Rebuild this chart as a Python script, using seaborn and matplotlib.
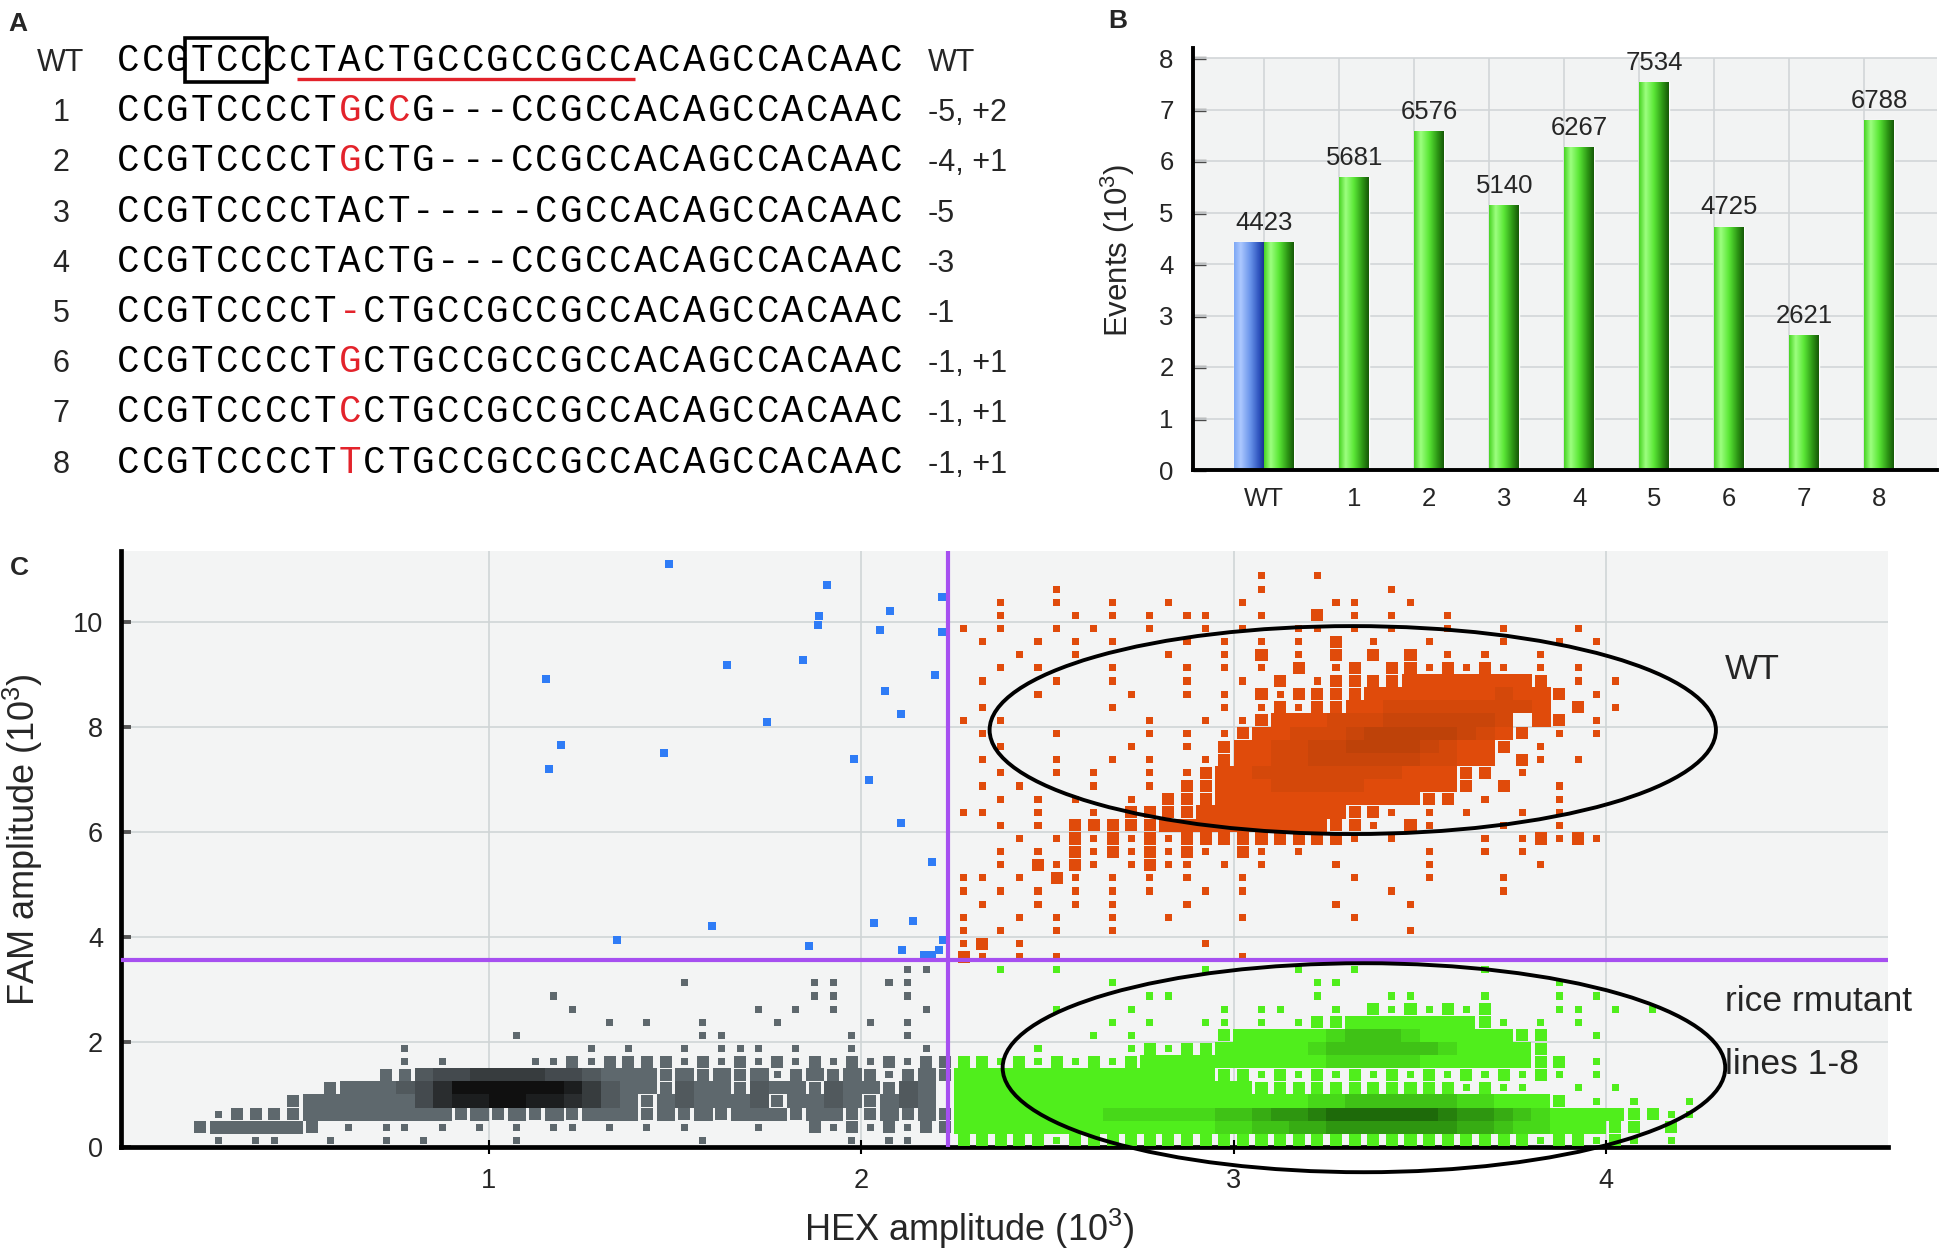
import numpy as np
import pandas as pd
import matplotlib
matplotlib.use("Agg")
import matplotlib.pyplot as plt
import seaborn as sns
from matplotlib.colors import LinearSegmentedColormap, to_rgb
from matplotlib.patches import Ellipse, Rectangle

sns.set_style("white")
plt.rcParams["font.family"] = ["Liberation Sans", "DejaVu Sans"]
plt.rcParams["mathtext.fontset"] = "custom"
plt.rcParams["mathtext.rm"] = "Liberation Sans"
plt.rcParams["mathtext.it"] = "Liberation Sans:italic"

# ---------------- panel A : alignment of the target site ----------------
row_names = ["WT", "1", "2", "3", "4", "5", "6", "7", "8"]
sequences = [
    "CCGTCCCCTACTGCCGCCGCCACAGCCACAAC",
    "CCGTCCCCTGCCG---CCGCCACAGCCACAAC",
    "CCGTCCCCTGCTG---CCGCCACAGCCACAAC",
    "CCGTCCCCTACT-----CGCCACAGCCACAAC",
    "CCGTCCCCTACTG---CCGCCACAGCCACAAC",
    "CCGTCCCCT-CTGCCGCCGCCACAGCCACAAC",
    "CCGTCCCCTGCTGCCGCCGCCACAGCCACAAC",
    "CCGTCCCCTCCTGCCGCCGCCACAGCCACAAC",
    "CCGTCCCCTTCTGCCGCCGCCACAGCCACAAC",
]
changed_bases = [[], [9, 11], [9], [], [], [9], [9], [9], [9]]
indels = ["WT", "-5, +2", "-4, +1", "-5", "-3", "-1", "-1, +1", "-1, +1", "-1, +1"]

# ---------------- panel B : droplet counts ----------------
lines = ["WT", "1", "2", "3", "4", "5", "6", "7", "8"]
events = [4423, 5681, 6576, 5140, 6267, 7534, 4725, 2621, 6788]
wt_ref_events = 4423

# ---------------- panel C : 2D droplet plot ----------------
# isolated FAM+ droplets (blue)
blue_hex = [1.484, 1.908, 2.218, 1.888, 2.078, 1.883, 2.05, 2.218, 1.154, 1.64, 1.845,
            2.198, 2.063, 2.106, 1.747, 1.195, 1.471, 1.163, 1.98, 2.02, 2.106, 2.19,
            1.345, 1.60, 1.86, 2.035, 2.14, 2.11, 2.17, 2.19, 2.21, 2.22]
blue_fam = [11.11, 10.70, 10.48, 10.11, 10.21, 9.95, 9.84, 9.81, 8.92, 9.17, 9.28,
            8.99, 8.68, 8.24, 8.09, 7.65, 7.50, 7.20, 7.38, 6.98, 6.17, 5.42,
            3.94, 4.20, 3.83, 4.27, 4.31, 3.75, 3.66, 3.66, 3.75, 3.95]

# droplet density, cells of 0.05 HEX x 0.25 FAM, top row first
# '.' none, 1-2 scattered droplets, 3-9 filled cell, darker = denser
grey_rows = [
    "......................................11.",
    "..........................1......11..11..",
    "...................1.............11...1..",
    "....................1.........1.1.1....1.",
    "......................1.1..1...1....1.1..",
    ".................1.........11......1..1..",
    "...........1.........1.1..1.111.1..1...1.",
    "...........1.1....11212222121212121212122",
    "..........22455666655433323232312323212321",
    ".......233345799999986433243324332433243",
    ".....23333335788998876432343334233432343",
    ".12222333333332323232333232323332332232323",
    "2333332.1.11.1.1.1.11.1.1.1...1..21212122",
    ".1.11..1..1.1....1.........1.......1.11..",
]
green_rows = [
    "..1..1.......1....1..1......1",
    "........1..........11...........1",
    "..........11.......1...11...1...1.1",
    ".....1...1....1.11..1.2121212...11.1.1",
    "........1.1..11.1.122333333321.1.1......",
    ".......1.1....233333455543333322..1.....",
    "....1....12122333334555555433332........",
    "221212121233333333334444433333322.1......",
    "333333333333332212121212121212121.1.......",
    "3333333333333333222222222221211..1.1....",
    "333333333333333333344555555443332.1.1..1.",
    "3333333344444455677899999987765433332211",
    "3333333333333344556677777776654433322.2.1",
    "2222212222222222222222222222222122121.1.",
]
orange_rows = [
    "................1..1",
    ".....1..........1......1",
    "..1..1..1..1...1....11..1",
    "..1...1.1.1.11..1..2.1.1..1",
    "1.1..1.1..1..1.1..11.1.1..1..1...1",
    ".1..1.1.1...1.1.1.1.2.1..1...1..1.1",
    "...1..1....1..1.2.1.2.2.2.1.1..1",
    "..1.1...1...1.1.1.2.12.2212121.1.1...",
    ".1...1..1...1..1.2.1222233333332.1.1.",
    "....1....1..1.1.21222233333334332.1..",
    ".1......1.....1.1212233444444443.2.1.1.",
    "1.1.......1..1.123334445555554.32.1...",
    ".1...1....1.1.12334445666665432.1.1...",
    "..1......1..1.2334455666654332.1.....",
    ".1...1..1.1..1233445555554433.21.1....",
    "..1..1.1..1.12334444444433322.1.....",
    ".1.1...1..1.2233344444333332.2..1...",
    "..1.1.1..1.2223333333333322.1...1....",
    "11..1..1.222233333333221.1.1..1.1....",
    "..1.1.22222333333333221.21...1..1......",
    "...1.12121212222222221.1....1.12121...",
    "..1.1.21212121.21.1......1..1.1",
    "..1.2121.1211.1.1...1....1.....1",
    "11.1.21.1.1.1..1.....1...1...1",
    "1.1.1.1.1.1..1.1.......1.....1",
    ".1..1.1.1...1.......1...1",
    "1..1.1..1..1...1.....1",
    "1.1..1..1...............1",
    "12.1.........1",
    "21.1.1.........1",
]

hex_threshold = 2.234
fam_threshold = 3.56

W, H = 1950, 1249
fig = plt.figure(figsize=(W / 100, H / 100), dpi=100)
red = "#e3232b"

# ---------------- A ----------------
axA = fig.add_axes([0, 0, 1, 1])
axA.set_xlim(0, W)
axA.set_ylim(H, 0)
axA.axis("off")

pitch = 24.6
seq_x0 = 116
for r, (name, seq, sites, ind) in enumerate(zip(row_names, sequences, changed_bases, indels)):
    yb = 71 + r * 50.2
    axA.text(61, yb, name, ha="center", va="baseline", fontsize=22)
    for k, ch in enumerate(seq):
        axA.text(seq_x0 + (k + 0.5) * pitch, yb, ch, ha="center", va="baseline",
                 fontsize=27, family="Liberation Mono",
                 color=red if k in sites else "black")
    axA.text(928, yb, ind, ha="left", va="baseline", fontsize=22)

# PAM box and target underline
axA.add_patch(Rectangle((185, 38), 82, 44, fill=False, lw=2.6, ec="black"))
axA.plot([seq_x0 + 7.35 * pitch, seq_x0 + 21.1 * pitch], [79, 79], color=red, lw=2.4,
         solid_capstyle="butt")

axA.text(8, 24, "A", fontsize=19, fontweight="bold", va="center")
axA.text(1108, 21, "B", fontsize=19, fontweight="bold", va="center")
axA.text(10, 568, "C", fontsize=19, fontweight="bold", va="center")

# ---------------- B ----------------
axB = fig.add_axes([1193 / W, 1 - 470 / H, 744 / W, 8.2 * 51.5 / H])
bw = 0.4
xpos = np.arange(len(lines))
vals = np.array(events) / 1000
xl = (-1.15, 8.77)

axB.add_patch(Rectangle((xl[0], 0), xl[1] - xl[0], 8, facecolor="#f2f3f3", edgecolor="none", zorder=0))
axB.hlines(np.arange(1, 9), xl[0], xl[1], color="#d2d6d8", lw=1.2, zorder=1)
axB.vlines(xpos - bw / 2, 0, 8, color="#d2d6d8", lw=1.2, zorder=1)

green_cmap = LinearSegmentedColormap.from_list(
    "g", [(0, "#48d424"), (0.22, "#9dff80"), (0.5, "#5ae736"), (0.8, "#2c9414"), (1, "#175a08")])
blue_cmap = LinearSegmentedColormap.from_list(
    "b", [(0, "#7ea8f5"), (0.22, "#acc8ff"), (0.55, "#6893ea"), (0.85, "#2d52bd"), (1, "#1b3490")])

gbars = axB.bar(xpos, vals, width=bw, color="#5ae736", zorder=2)
bbars = axB.bar([xpos[0] - bw], [wt_ref_events / 1000], width=bw, color="#6893ea", zorder=2)


def shade(ax, patch, cmap):
    x, y = patch.get_x(), patch.get_y()
    w, h = patch.get_width(), patch.get_height()
    im = ax.imshow(np.linspace(0, 1, 64).reshape(1, -1), cmap=cmap, aspect="auto",
                   extent=[x, x + w, y, y + h], interpolation="bilinear", zorder=2.5)
    im.set_clip_path(patch)


for p in gbars:
    shade(axB, p, green_cmap)
for p in bbars:
    shade(axB, p, blue_cmap)

for i, v in enumerate(events):
    x = xpos[i] if i > 0 else xpos[0] - bw / 2
    axB.text(x, vals[i] + 0.24, str(v), ha="center", va="baseline", fontsize=18.5)

axB.set_xlim(*xl)
axB.set_ylim(0, 8.2)
axB.set_xticks(np.r_[xpos[0] - bw / 2, xpos[1:]])
axB.set_xticklabels(lines)
axB.set_yticks(range(9))
axB.tick_params(axis="y", left=True, direction="in", length=9, width=2.4, color="#4a4a4a",
                labelsize=18.5, pad=14)
axB.tick_params(axis="x", bottom=False, labelsize=18.5, pad=9)
for s in ["top", "right"]:
    axB.spines[s].set_visible(False)
for s in ["left", "bottom"]:
    axB.spines[s].set_linewidth(2.8)
    axB.spines[s].set_color("black")
axB.set_ylabel(r"Events (10$^{\mathrm{3}}$)", fontsize=22.5)
axB.yaxis.set_label_coords(-0.075, 0.52)

# ---------------- C ----------------
axC = fig.add_axes([121 / W, 1 - 1147 / H, (1888 - 121) / W, 596 / H])
axC.set_facecolor("#f3f4f4")
DX, DY = 0.05, 0.25


def draw_cluster(ax, rows, x0, y0, ncols, base, dark):
    lv = np.array([[int(c) if c.isdigit() else 0 for c in r.ljust(ncols, ".")[:ncols]]
                   for r in rows])
    nr = lv.shape[0]
    b, d = np.array(to_rgb(base)), np.array(to_rgb(dark))
    t = np.clip((lv - 3) / 6.0, 0, 1)[..., None]
    img = np.zeros((nr, ncols, 4))
    img[..., :3] = b * (1 - t) + d * t
    img[..., 3] = (lv >= 3).astype(float)
    ax.imshow(img, extent=(x0, x0 + ncols * DX, y0, y0 + nr * DY), origin="upper",
              interpolation="nearest", aspect="auto", zorder=2)
    rr, cc = np.nonzero((lv > 0) & (lv < 3))
    df = pd.DataFrame({"hex": x0 + (cc + 0.5) * DX, "fam": y0 + (nr - rr - 0.5) * DY,
                       "lvl": lv[rr, cc]})
    sns.scatterplot(data=df, x="hex", y="fam", size="lvl", sizes={1: 26, 2: 75}, marker="s",
                    color=base, linewidth=0, legend=False, ax=ax, zorder=3)


draw_cluster(axC, grey_rows, 0.20, 0.0, 41, "#5e686d", "#101010")
draw_cluster(axC, green_rows, 2.25, 0.0, 40, "#50ee1c", "#1e6a0a")
draw_cluster(axC, orange_rows, 2.25, 3.5, 37, "#e04b0b", "#9c3a08")
sns.scatterplot(x=blue_hex, y=blue_fam, marker="s", s=26, color="#2f7cf6", linewidth=0,
                ax=axC, zorder=3)

axC.axvline(hex_threshold, color="#a64ff0", lw=3, zorder=4)
axC.axhline(fam_threshold, color="#a64ff0", lw=3, zorder=4)

axC.add_patch(Ellipse((3.32, 7.94), 1.95, 3.96, fill=False, lw=2.8, ec="black", zorder=5))
axC.add_patch(Ellipse((3.35, 1.51), 1.94, 3.98, fill=False, lw=2.8, ec="black", zorder=5,
                      clip_on=False))
axC.text(4.32, 9.1, "WT", fontsize=25.5, va="center")
axC.text(4.32, 2.78, "rice rmutant", fontsize=25.5, va="center")
axC.text(4.32, 1.57, "lines 1-8", fontsize=25.5, va="center")

axC.set_xlim(0.013, 4.757)
axC.set_ylim(0, 11.35)
axC.set_xticks([1, 2, 3, 4])
axC.set_yticks([0, 2, 4, 6, 8, 10])
axC.grid(True, color="#cfd5d6", lw=1.2)
axC.set_axisbelow(True)
axC.tick_params(axis="y", left=True, direction="in", length=7, width=2.8, color="#555555",
                labelsize=19.5, pad=13)
axC.tick_params(axis="x", bottom=True, direction="inout", length=10, width=1.5, color="black",
                labelsize=19.5, pad=10)
for s in ["top", "right"]:
    axC.spines[s].set_visible(False)
for s in ["left", "bottom"]:
    axC.spines[s].set_linewidth(3.4)
    axC.spines[s].set_color("black")
axC.set_xlabel(r"HEX amplitude (10$^{\mathrm{3}}$)", fontsize=26)
axC.set_ylabel(r"FAM amplitude (10$^{\mathrm{3}}$)", fontsize=26)
axC.xaxis.set_label_coords(0.48, -0.1)
axC.yaxis.set_label_coords(-0.043, 0.515)

fig.savefig("out.png", dpi=100)
